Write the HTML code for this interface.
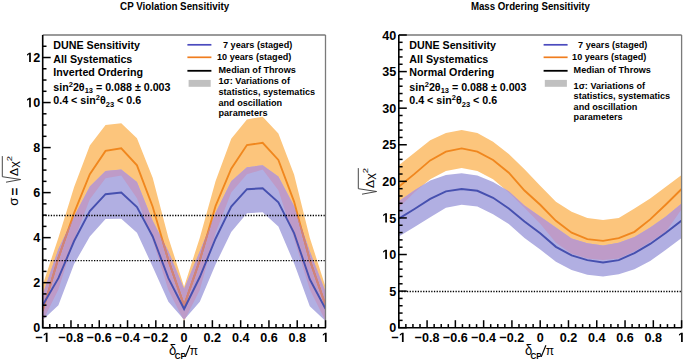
<!DOCTYPE html>
<html><head><meta charset="utf-8"><style>
html,body{margin:0;padding:0;background:#fff;width:685px;height:361px;overflow:hidden}
svg{display:block}
</style></head><body>
<svg width="685" height="361" viewBox="0 0 685 361" style="font-family:'Liberation Sans',sans-serif">
<rect width="685" height="361" fill="#fff"/>
<clipPath id="c42"><rect x="42.7" y="35.0" width="282.8" height="292.7"/></clipPath>
<g clip-path="url(#c42)">
<path d="M42.70,284.92 L58.41,237.64 L74.12,186.98 L89.83,145.55 L105.54,125.06 L121.26,123.26 L136.97,138.35 L152.68,177.75 L168.39,237.64 L184.10,286.72 L199.81,237.64 L215.52,181.35 L231.23,138.80 L246.94,119.43 L262.66,116.73 L278.37,133.39 L294.08,174.60 L309.79,237.64 L325.50,286.72 L325.50,320.95 L309.79,289.42 L294.08,238.76 L278.37,190.36 L262.66,169.42 L246.94,174.37 L231.23,192.61 L215.52,233.14 L199.81,290.10 L184.10,320.95 L168.39,290.10 L152.68,239.89 L136.97,198.24 L121.26,175.50 L105.54,178.20 L89.83,199.14 L74.12,239.89 L58.41,289.42 L42.70,320.95 Z" fill="rgb(252,197,124)"/>
<path d="M42.70,294.60 L58.41,248.90 L74.12,216.25 L89.83,186.53 L105.54,170.99 L121.26,169.42 L136.97,182.03 L152.68,220.75 L168.39,251.15 L184.10,288.97 L199.81,251.15 L215.52,212.87 L231.23,181.35 L246.94,167.17 L262.66,165.36 L278.37,176.62 L294.08,206.12 L309.79,251.15 L325.50,291.68 L325.50,320.95 L309.79,306.31 L294.08,263.31 L278.37,226.61 L262.66,212.20 L246.94,213.32 L231.23,232.01 L215.52,264.43 L199.81,301.81 L184.10,319.82 L168.39,301.81 L152.68,266.68 L136.97,232.69 L121.26,218.73 L105.54,218.95 L89.83,236.51 L74.12,263.98 L58.41,305.18 L42.70,320.04 Z" fill="rgb(177,175,226)"/>
<clipPath id="oc42"><path d="M42.70,284.92 L58.41,237.64 L74.12,186.98 L89.83,145.55 L105.54,125.06 L121.26,123.26 L136.97,138.35 L152.68,177.75 L168.39,237.64 L184.10,286.72 L199.81,237.64 L215.52,181.35 L231.23,138.80 L246.94,119.43 L262.66,116.73 L278.37,133.39 L294.08,174.60 L309.79,237.64 L325.50,286.72 L325.50,320.95 L309.79,289.42 L294.08,238.76 L278.37,190.36 L262.66,169.42 L246.94,174.37 L231.23,192.61 L215.52,233.14 L199.81,290.10 L184.10,320.95 L168.39,290.10 L152.68,239.89 L136.97,198.24 L121.26,175.50 L105.54,178.20 L89.83,199.14 L74.12,239.89 L58.41,289.42 L42.70,320.95 Z"/></clipPath>
<path d="M42.70,294.60 L58.41,248.90 L74.12,216.25 L89.83,186.53 L105.54,170.99 L121.26,169.42 L136.97,182.03 L152.68,220.75 L168.39,251.15 L184.10,288.97 L199.81,251.15 L215.52,212.87 L231.23,181.35 L246.94,167.17 L262.66,165.36 L278.37,176.62 L294.08,206.12 L309.79,251.15 L325.50,291.68 L325.50,320.95 L309.79,306.31 L294.08,263.31 L278.37,226.61 L262.66,212.20 L246.94,213.32 L231.23,232.01 L215.52,264.43 L199.81,301.81 L184.10,319.82 L168.39,301.81 L152.68,266.68 L136.97,232.69 L121.26,218.73 L105.54,218.95 L89.83,236.51 L74.12,263.98 L58.41,305.18 L42.70,320.04 Z" fill="rgb(190,155,200)" clip-path="url(#oc42)"/>
<path d="M42.70,310.81 L58.41,257.90 L74.12,212.87 L89.83,174.15 L105.54,150.95 L121.26,148.25 L136.97,165.36 L152.68,206.79 L168.39,260.15 L184.10,305.63 L199.81,260.15 L215.52,206.12 L231.23,168.74 L246.94,145.10 L262.66,142.85 L278.37,159.96 L294.08,201.61 L309.79,260.15 L325.50,305.18" fill="none" stroke="#f0871e" stroke-width="1.85" stroke-linejoin="miter"/>
<clipPath id="bc42"><path d="M42.70,294.60 L58.41,248.90 L74.12,216.25 L89.83,186.53 L105.54,170.99 L121.26,169.42 L136.97,182.03 L152.68,220.75 L168.39,251.15 L184.10,288.97 L199.81,251.15 L215.52,212.87 L231.23,181.35 L246.94,167.17 L262.66,165.36 L278.37,176.62 L294.08,206.12 L309.79,251.15 L325.50,291.68 L325.50,320.95 L309.79,306.31 L294.08,263.31 L278.37,226.61 L262.66,212.20 L246.94,213.32 L231.23,232.01 L215.52,264.43 L199.81,301.81 L184.10,319.82 L168.39,301.81 L152.68,266.68 L136.97,232.69 L121.26,218.73 L105.54,218.95 L89.83,236.51 L74.12,263.98 L58.41,305.18 L42.70,320.04 Z"/></clipPath>
<g clip-path="url(#bc42)">
<path d="M42.70,310.81 L58.41,257.90 L74.12,212.87 L89.83,174.15 L105.54,150.95 L121.26,148.25 L136.97,165.36 L152.68,206.79 L168.39,260.15 L184.10,305.63 L199.81,260.15 L215.52,206.12 L231.23,168.74 L246.94,145.10 L262.66,142.85 L278.37,159.96 L294.08,201.61 L309.79,260.15 L325.50,305.18" fill="none" stroke="rgb(205,130,128)" stroke-width="1.85" stroke-linejoin="miter"/>
</g>
<path d="M42.70,305.18 L58.41,278.17 L74.12,241.02 L89.83,211.07 L105.54,194.18 L121.26,192.61 L136.97,207.02 L152.68,236.51 L168.39,278.17 L184.10,309.01 L199.81,277.04 L215.52,238.76 L231.23,206.57 L246.94,189.23 L262.66,188.33 L278.37,202.29 L294.08,233.14 L309.79,279.29 L325.50,308.79" fill="none" stroke="#4650af" stroke-width="1.9" stroke-linejoin="miter"/>
<line x1="42.7" y1="215.52" x2="325.5" y2="215.52" stroke="#000" stroke-width="1.35" stroke-dasharray="1.3 1.4"/>
<line x1="42.7" y1="260.55" x2="325.5" y2="260.55" stroke="#000" stroke-width="1.35" stroke-dasharray="1.3 1.4"/>
</g>
<line x1="42.7" y1="35.0" x2="325.5" y2="35.0" stroke="#9a9a9a" stroke-width="1.9"/>
<line x1="325.5" y1="35.0" x2="325.5" y2="327.7" stroke="#7a7a7a" stroke-width="1.3"/>
<path d="M42.7,35.0 V327.7 H326.0" fill="none" stroke="#000" stroke-width="1.6"/>
<line x1="42.70" y1="327.7" x2="42.70" y2="320.2" stroke="#000" stroke-width="1.5"/>
<line x1="49.77" y1="327.7" x2="49.77" y2="324.09999999999997" stroke="#000" stroke-width="1.5"/>
<line x1="56.84" y1="327.7" x2="56.84" y2="324.09999999999997" stroke="#000" stroke-width="1.5"/>
<line x1="63.91" y1="327.7" x2="63.91" y2="324.09999999999997" stroke="#000" stroke-width="1.5"/>
<line x1="70.98" y1="327.7" x2="70.98" y2="320.2" stroke="#000" stroke-width="1.5"/>
<line x1="78.05" y1="327.7" x2="78.05" y2="324.09999999999997" stroke="#000" stroke-width="1.5"/>
<line x1="85.12" y1="327.7" x2="85.12" y2="324.09999999999997" stroke="#000" stroke-width="1.5"/>
<line x1="92.19" y1="327.7" x2="92.19" y2="324.09999999999997" stroke="#000" stroke-width="1.5"/>
<line x1="99.26" y1="327.7" x2="99.26" y2="320.2" stroke="#000" stroke-width="1.5"/>
<line x1="106.33" y1="327.7" x2="106.33" y2="324.09999999999997" stroke="#000" stroke-width="1.5"/>
<line x1="113.40" y1="327.7" x2="113.40" y2="324.09999999999997" stroke="#000" stroke-width="1.5"/>
<line x1="120.47" y1="327.7" x2="120.47" y2="324.09999999999997" stroke="#000" stroke-width="1.5"/>
<line x1="127.54" y1="327.7" x2="127.54" y2="320.2" stroke="#000" stroke-width="1.5"/>
<line x1="134.61" y1="327.7" x2="134.61" y2="324.09999999999997" stroke="#000" stroke-width="1.5"/>
<line x1="141.68" y1="327.7" x2="141.68" y2="324.09999999999997" stroke="#000" stroke-width="1.5"/>
<line x1="148.75" y1="327.7" x2="148.75" y2="324.09999999999997" stroke="#000" stroke-width="1.5"/>
<line x1="155.82" y1="327.7" x2="155.82" y2="320.2" stroke="#000" stroke-width="1.5"/>
<line x1="162.89" y1="327.7" x2="162.89" y2="324.09999999999997" stroke="#000" stroke-width="1.5"/>
<line x1="169.96" y1="327.7" x2="169.96" y2="324.09999999999997" stroke="#000" stroke-width="1.5"/>
<line x1="177.03" y1="327.7" x2="177.03" y2="324.09999999999997" stroke="#000" stroke-width="1.5"/>
<line x1="184.10" y1="327.7" x2="184.10" y2="320.2" stroke="#000" stroke-width="1.5"/>
<line x1="191.17" y1="327.7" x2="191.17" y2="324.09999999999997" stroke="#000" stroke-width="1.5"/>
<line x1="198.24" y1="327.7" x2="198.24" y2="324.09999999999997" stroke="#000" stroke-width="1.5"/>
<line x1="205.31" y1="327.7" x2="205.31" y2="324.09999999999997" stroke="#000" stroke-width="1.5"/>
<line x1="212.38" y1="327.7" x2="212.38" y2="320.2" stroke="#000" stroke-width="1.5"/>
<line x1="219.45" y1="327.7" x2="219.45" y2="324.09999999999997" stroke="#000" stroke-width="1.5"/>
<line x1="226.52" y1="327.7" x2="226.52" y2="324.09999999999997" stroke="#000" stroke-width="1.5"/>
<line x1="233.59" y1="327.7" x2="233.59" y2="324.09999999999997" stroke="#000" stroke-width="1.5"/>
<line x1="240.66" y1="327.7" x2="240.66" y2="320.2" stroke="#000" stroke-width="1.5"/>
<line x1="247.73" y1="327.7" x2="247.73" y2="324.09999999999997" stroke="#000" stroke-width="1.5"/>
<line x1="254.80" y1="327.7" x2="254.80" y2="324.09999999999997" stroke="#000" stroke-width="1.5"/>
<line x1="261.87" y1="327.7" x2="261.87" y2="324.09999999999997" stroke="#000" stroke-width="1.5"/>
<line x1="268.94" y1="327.7" x2="268.94" y2="320.2" stroke="#000" stroke-width="1.5"/>
<line x1="276.01" y1="327.7" x2="276.01" y2="324.09999999999997" stroke="#000" stroke-width="1.5"/>
<line x1="283.08" y1="327.7" x2="283.08" y2="324.09999999999997" stroke="#000" stroke-width="1.5"/>
<line x1="290.15" y1="327.7" x2="290.15" y2="324.09999999999997" stroke="#000" stroke-width="1.5"/>
<line x1="297.22" y1="327.7" x2="297.22" y2="320.2" stroke="#000" stroke-width="1.5"/>
<line x1="304.29" y1="327.7" x2="304.29" y2="324.09999999999997" stroke="#000" stroke-width="1.5"/>
<line x1="311.36" y1="327.7" x2="311.36" y2="324.09999999999997" stroke="#000" stroke-width="1.5"/>
<line x1="318.43" y1="327.7" x2="318.43" y2="324.09999999999997" stroke="#000" stroke-width="1.5"/>
<line x1="325.50" y1="327.7" x2="325.50" y2="320.2" stroke="#000" stroke-width="1.5"/>
<line x1="42.7" y1="327.70" x2="50.7" y2="327.70" stroke="#000" stroke-width="1.5"/>
<line x1="42.7" y1="316.44" x2="46.5" y2="316.44" stroke="#000" stroke-width="1.5"/>
<line x1="42.7" y1="305.18" x2="46.5" y2="305.18" stroke="#000" stroke-width="1.5"/>
<line x1="42.7" y1="293.93" x2="46.5" y2="293.93" stroke="#000" stroke-width="1.5"/>
<line x1="42.7" y1="282.67" x2="50.7" y2="282.67" stroke="#000" stroke-width="1.5"/>
<line x1="42.7" y1="271.41" x2="46.5" y2="271.41" stroke="#000" stroke-width="1.5"/>
<line x1="42.7" y1="260.15" x2="46.5" y2="260.15" stroke="#000" stroke-width="1.5"/>
<line x1="42.7" y1="248.90" x2="46.5" y2="248.90" stroke="#000" stroke-width="1.5"/>
<line x1="42.7" y1="237.64" x2="50.7" y2="237.64" stroke="#000" stroke-width="1.5"/>
<line x1="42.7" y1="226.38" x2="46.5" y2="226.38" stroke="#000" stroke-width="1.5"/>
<line x1="42.7" y1="215.12" x2="46.5" y2="215.12" stroke="#000" stroke-width="1.5"/>
<line x1="42.7" y1="203.87" x2="46.5" y2="203.87" stroke="#000" stroke-width="1.5"/>
<line x1="42.7" y1="192.61" x2="50.7" y2="192.61" stroke="#000" stroke-width="1.5"/>
<line x1="42.7" y1="181.35" x2="46.5" y2="181.35" stroke="#000" stroke-width="1.5"/>
<line x1="42.7" y1="170.09" x2="46.5" y2="170.09" stroke="#000" stroke-width="1.5"/>
<line x1="42.7" y1="158.83" x2="46.5" y2="158.83" stroke="#000" stroke-width="1.5"/>
<line x1="42.7" y1="147.58" x2="50.7" y2="147.58" stroke="#000" stroke-width="1.5"/>
<line x1="42.7" y1="136.32" x2="46.5" y2="136.32" stroke="#000" stroke-width="1.5"/>
<line x1="42.7" y1="125.06" x2="46.5" y2="125.06" stroke="#000" stroke-width="1.5"/>
<line x1="42.7" y1="113.80" x2="46.5" y2="113.80" stroke="#000" stroke-width="1.5"/>
<line x1="42.7" y1="102.55" x2="50.7" y2="102.55" stroke="#000" stroke-width="1.5"/>
<line x1="42.7" y1="91.29" x2="46.5" y2="91.29" stroke="#000" stroke-width="1.5"/>
<line x1="42.7" y1="80.03" x2="46.5" y2="80.03" stroke="#000" stroke-width="1.5"/>
<line x1="42.7" y1="68.77" x2="46.5" y2="68.77" stroke="#000" stroke-width="1.5"/>
<line x1="42.7" y1="57.52" x2="50.7" y2="57.52" stroke="#000" stroke-width="1.5"/>
<line x1="42.7" y1="46.26" x2="46.5" y2="46.26" stroke="#000" stroke-width="1.5"/>
<g transform="translate(0,342.10) scale(1,1.08) translate(0,-342.10)">
<text x="35.52" y="342.10" font-weight="bold" font-size="12.6">−</text>
<path d="M478 0V1170L140 959V1180L493 1409H759V0Z" transform="translate(42.88,342.10) scale(0.006152,-0.006152)"/>
</g>
<g transform="translate(0,342.10) scale(1,1.08) translate(0,-342.10)">
<text x="58.54" y="342.10" font-weight="bold" font-size="12.6">−0.8</text>
</g>
<g transform="translate(0,342.10) scale(1,1.08) translate(0,-342.10)">
<text x="86.82" y="342.10" font-weight="bold" font-size="12.6">−0.6</text>
</g>
<g transform="translate(0,342.10) scale(1,1.08) translate(0,-342.10)">
<text x="115.10" y="342.10" font-weight="bold" font-size="12.6">−0.4</text>
</g>
<g transform="translate(0,342.10) scale(1,1.08) translate(0,-342.10)">
<text x="143.38" y="342.10" font-weight="bold" font-size="12.6">−0.2</text>
</g>
<g transform="translate(0,342.10) scale(1,1.08) translate(0,-342.10)">
<text x="180.60" y="342.10" font-weight="bold" font-size="12.6">0</text>
</g>
<g transform="translate(0,342.10) scale(1,1.08) translate(0,-342.10)">
<text x="203.62" y="342.10" font-weight="bold" font-size="12.6">0.2</text>
</g>
<g transform="translate(0,342.10) scale(1,1.08) translate(0,-342.10)">
<text x="231.90" y="342.10" font-weight="bold" font-size="12.6">0.4</text>
</g>
<g transform="translate(0,342.10) scale(1,1.08) translate(0,-342.10)">
<text x="260.18" y="342.10" font-weight="bold" font-size="12.6">0.6</text>
</g>
<g transform="translate(0,342.10) scale(1,1.08) translate(0,-342.10)">
<text x="288.46" y="342.10" font-weight="bold" font-size="12.6">0.8</text>
</g>
<g transform="translate(0,342.10) scale(1,1.08) translate(0,-342.10)">
<path d="M478 0V1170L140 959V1180L493 1409H759V0Z" transform="translate(322.00,342.10) scale(0.006152,-0.006152)"/>
</g>
<g transform="translate(0,332.30) scale(1,1.08) translate(0,-332.30)">
<text x="33.19" y="332.30" font-weight="bold" font-size="12.6">0</text>
</g>
<g transform="translate(0,287.27) scale(1,1.08) translate(0,-287.27)">
<text x="33.19" y="287.27" font-weight="bold" font-size="12.6">2</text>
</g>
<g transform="translate(0,242.24) scale(1,1.08) translate(0,-242.24)">
<text x="33.19" y="242.24" font-weight="bold" font-size="12.6">4</text>
</g>
<g transform="translate(0,197.21) scale(1,1.08) translate(0,-197.21)">
<text x="33.19" y="197.21" font-weight="bold" font-size="12.6">6</text>
</g>
<g transform="translate(0,152.18) scale(1,1.08) translate(0,-152.18)">
<text x="33.19" y="152.18" font-weight="bold" font-size="12.6">8</text>
</g>
<g transform="translate(0,107.15) scale(1,1.08) translate(0,-107.15)">
<path d="M478 0V1170L140 959V1180L493 1409H759V0Z" transform="translate(26.18,107.15) scale(0.006152,-0.006152)"/>
<text x="33.19" y="107.15" font-weight="bold" font-size="12.6">0</text>
</g>
<g transform="translate(0,62.12) scale(1,1.08) translate(0,-62.12)">
<path d="M478 0V1170L140 959V1180L493 1409H759V0Z" transform="translate(26.18,62.12) scale(0.006152,-0.006152)"/>
<text x="33.19" y="62.12" font-weight="bold" font-size="12.6">2</text>
</g>
<clipPath id="c398"><rect x="398.8" y="35.0" width="282.8" height="292.7"/></clipPath>
<g clip-path="url(#c398)">
<path d="M398.80,165.25 L414.51,152.81 L430.22,140.37 L445.93,132.91 L461.64,129.98 L477.36,132.91 L493.07,141.76 L508.78,153.98 L524.49,169.20 L540.20,185.74 L555.91,201.77 L571.62,211.72 L587.33,218.08 L603.04,219.91 L618.76,218.08 L634.47,208.42 L650.18,198.40 L665.89,186.69 L681.60,174.98 L681.60,209.16 L665.89,231.84 L650.18,242.09 L634.47,251.60 L618.76,258.40 L603.04,260.09 L587.33,258.40 L571.62,253.72 L555.91,242.82 L540.20,223.79 L524.49,207.69 L508.78,192.47 L493.07,179.15 L477.36,171.03 L461.64,167.96 L445.93,170.89 L430.22,179.15 L414.51,192.33 L398.80,207.69 Z" fill="rgb(252,197,124)"/>
<path d="M398.80,201.33 L414.51,190.20 L430.22,180.62 L445.93,174.98 L461.64,173.30 L477.36,175.50 L493.07,182.01 L508.78,191.37 L524.49,205.42 L540.20,216.47 L555.91,227.38 L571.62,238.50 L587.33,243.18 L603.04,245.52 L618.76,242.67 L634.47,236.96 L650.18,227.45 L665.89,216.40 L681.60,203.60 L681.60,237.99 L665.89,249.70 L650.18,261.11 L634.47,269.16 L618.76,274.28 L603.04,276.48 L587.33,274.72 L571.62,270.04 L555.91,261.84 L540.20,249.40 L524.49,238.06 L508.78,224.01 L493.07,214.28 L477.36,206.60 L461.64,204.77 L445.93,207.69 L430.22,217.21 L414.51,227.08 L398.80,236.60 Z" fill="rgb(177,175,226)"/>
<clipPath id="oc398"><path d="M398.80,165.25 L414.51,152.81 L430.22,140.37 L445.93,132.91 L461.64,129.98 L477.36,132.91 L493.07,141.76 L508.78,153.98 L524.49,169.20 L540.20,185.74 L555.91,201.77 L571.62,211.72 L587.33,218.08 L603.04,219.91 L618.76,218.08 L634.47,208.42 L650.18,198.40 L665.89,186.69 L681.60,174.98 L681.60,209.16 L665.89,231.84 L650.18,242.09 L634.47,251.60 L618.76,258.40 L603.04,260.09 L587.33,258.40 L571.62,253.72 L555.91,242.82 L540.20,223.79 L524.49,207.69 L508.78,192.47 L493.07,179.15 L477.36,171.03 L461.64,167.96 L445.93,170.89 L430.22,179.15 L414.51,192.33 L398.80,207.69 Z"/></clipPath>
<path d="M398.80,201.33 L414.51,190.20 L430.22,180.62 L445.93,174.98 L461.64,173.30 L477.36,175.50 L493.07,182.01 L508.78,191.37 L524.49,205.42 L540.20,216.47 L555.91,227.38 L571.62,238.50 L587.33,243.18 L603.04,245.52 L618.76,242.67 L634.47,236.96 L650.18,227.45 L665.89,216.40 L681.60,203.60 L681.60,237.99 L665.89,249.70 L650.18,261.11 L634.47,269.16 L618.76,274.28 L603.04,276.48 L587.33,274.72 L571.62,270.04 L555.91,261.84 L540.20,249.40 L524.49,238.06 L508.78,224.01 L493.07,214.28 L477.36,206.60 L461.64,204.77 L445.93,207.69 L430.22,217.21 L414.51,227.08 L398.80,236.60 Z" fill="rgb(190,155,200)" clip-path="url(#oc398)"/>
<path d="M398.80,186.69 L414.51,173.89 L430.22,160.42 L445.93,151.71 L461.64,148.42 L477.36,151.71 L493.07,159.91 L508.78,172.72 L524.49,190.50 L540.20,204.77 L555.91,220.86 L571.62,232.72 L587.33,239.09 L603.04,240.84 L618.76,238.13 L634.47,231.84 L650.18,219.40 L665.89,204.47 L681.60,189.03" fill="none" stroke="#f0871e" stroke-width="1.85" stroke-linejoin="miter"/>
<clipPath id="bc398"><path d="M398.80,201.33 L414.51,190.20 L430.22,180.62 L445.93,174.98 L461.64,173.30 L477.36,175.50 L493.07,182.01 L508.78,191.37 L524.49,205.42 L540.20,216.47 L555.91,227.38 L571.62,238.50 L587.33,243.18 L603.04,245.52 L618.76,242.67 L634.47,236.96 L650.18,227.45 L665.89,216.40 L681.60,203.60 L681.60,237.99 L665.89,249.70 L650.18,261.11 L634.47,269.16 L618.76,274.28 L603.04,276.48 L587.33,274.72 L571.62,270.04 L555.91,261.84 L540.20,249.40 L524.49,238.06 L508.78,224.01 L493.07,214.28 L477.36,206.60 L461.64,204.77 L445.93,207.69 L430.22,217.21 L414.51,227.08 L398.80,236.60 Z"/></clipPath>
<g clip-path="url(#bc398)">
<path d="M398.80,186.69 L414.51,173.89 L430.22,160.42 L445.93,151.71 L461.64,148.42 L477.36,151.71 L493.07,159.91 L508.78,172.72 L524.49,190.50 L540.20,204.77 L555.91,220.86 L571.62,232.72 L587.33,239.09 L603.04,240.84 L618.76,238.13 L634.47,231.84 L650.18,219.40 L665.89,204.47 L681.60,189.03" fill="none" stroke="rgb(205,130,128)" stroke-width="1.85" stroke-linejoin="miter"/>
</g>
<path d="M398.80,218.67 L414.51,208.94 L430.22,198.91 L445.93,191.37 L461.64,189.03 L477.36,190.79 L493.07,197.81 L508.78,208.42 L524.49,221.60 L540.20,233.30 L555.91,246.84 L571.62,255.40 L587.33,260.09 L603.04,262.43 L618.76,260.09 L634.47,253.06 L650.18,243.91 L665.89,232.79 L681.60,220.50" fill="none" stroke="#4650af" stroke-width="1.9" stroke-linejoin="miter"/>
<line x1="398.8" y1="291.51" x2="681.6" y2="291.51" stroke="#000" stroke-width="1.35" stroke-dasharray="1.3 1.4"/>
</g>
<line x1="398.8" y1="35.0" x2="681.6" y2="35.0" stroke="#9a9a9a" stroke-width="1.9"/>
<line x1="681.6" y1="35.0" x2="681.6" y2="327.7" stroke="#7a7a7a" stroke-width="1.3"/>
<path d="M398.8,35.0 V327.7 H682.1" fill="none" stroke="#000" stroke-width="1.6"/>
<line x1="398.80" y1="327.7" x2="398.80" y2="320.2" stroke="#000" stroke-width="1.5"/>
<line x1="405.87" y1="327.7" x2="405.87" y2="324.09999999999997" stroke="#000" stroke-width="1.5"/>
<line x1="412.94" y1="327.7" x2="412.94" y2="324.09999999999997" stroke="#000" stroke-width="1.5"/>
<line x1="420.01" y1="327.7" x2="420.01" y2="324.09999999999997" stroke="#000" stroke-width="1.5"/>
<line x1="427.08" y1="327.7" x2="427.08" y2="320.2" stroke="#000" stroke-width="1.5"/>
<line x1="434.15" y1="327.7" x2="434.15" y2="324.09999999999997" stroke="#000" stroke-width="1.5"/>
<line x1="441.22" y1="327.7" x2="441.22" y2="324.09999999999997" stroke="#000" stroke-width="1.5"/>
<line x1="448.29" y1="327.7" x2="448.29" y2="324.09999999999997" stroke="#000" stroke-width="1.5"/>
<line x1="455.36" y1="327.7" x2="455.36" y2="320.2" stroke="#000" stroke-width="1.5"/>
<line x1="462.43" y1="327.7" x2="462.43" y2="324.09999999999997" stroke="#000" stroke-width="1.5"/>
<line x1="469.50" y1="327.7" x2="469.50" y2="324.09999999999997" stroke="#000" stroke-width="1.5"/>
<line x1="476.57" y1="327.7" x2="476.57" y2="324.09999999999997" stroke="#000" stroke-width="1.5"/>
<line x1="483.64" y1="327.7" x2="483.64" y2="320.2" stroke="#000" stroke-width="1.5"/>
<line x1="490.71" y1="327.7" x2="490.71" y2="324.09999999999997" stroke="#000" stroke-width="1.5"/>
<line x1="497.78" y1="327.7" x2="497.78" y2="324.09999999999997" stroke="#000" stroke-width="1.5"/>
<line x1="504.85" y1="327.7" x2="504.85" y2="324.09999999999997" stroke="#000" stroke-width="1.5"/>
<line x1="511.92" y1="327.7" x2="511.92" y2="320.2" stroke="#000" stroke-width="1.5"/>
<line x1="518.99" y1="327.7" x2="518.99" y2="324.09999999999997" stroke="#000" stroke-width="1.5"/>
<line x1="526.06" y1="327.7" x2="526.06" y2="324.09999999999997" stroke="#000" stroke-width="1.5"/>
<line x1="533.13" y1="327.7" x2="533.13" y2="324.09999999999997" stroke="#000" stroke-width="1.5"/>
<line x1="540.20" y1="327.7" x2="540.20" y2="320.2" stroke="#000" stroke-width="1.5"/>
<line x1="547.27" y1="327.7" x2="547.27" y2="324.09999999999997" stroke="#000" stroke-width="1.5"/>
<line x1="554.34" y1="327.7" x2="554.34" y2="324.09999999999997" stroke="#000" stroke-width="1.5"/>
<line x1="561.41" y1="327.7" x2="561.41" y2="324.09999999999997" stroke="#000" stroke-width="1.5"/>
<line x1="568.48" y1="327.7" x2="568.48" y2="320.2" stroke="#000" stroke-width="1.5"/>
<line x1="575.55" y1="327.7" x2="575.55" y2="324.09999999999997" stroke="#000" stroke-width="1.5"/>
<line x1="582.62" y1="327.7" x2="582.62" y2="324.09999999999997" stroke="#000" stroke-width="1.5"/>
<line x1="589.69" y1="327.7" x2="589.69" y2="324.09999999999997" stroke="#000" stroke-width="1.5"/>
<line x1="596.76" y1="327.7" x2="596.76" y2="320.2" stroke="#000" stroke-width="1.5"/>
<line x1="603.83" y1="327.7" x2="603.83" y2="324.09999999999997" stroke="#000" stroke-width="1.5"/>
<line x1="610.90" y1="327.7" x2="610.90" y2="324.09999999999997" stroke="#000" stroke-width="1.5"/>
<line x1="617.97" y1="327.7" x2="617.97" y2="324.09999999999997" stroke="#000" stroke-width="1.5"/>
<line x1="625.04" y1="327.7" x2="625.04" y2="320.2" stroke="#000" stroke-width="1.5"/>
<line x1="632.11" y1="327.7" x2="632.11" y2="324.09999999999997" stroke="#000" stroke-width="1.5"/>
<line x1="639.18" y1="327.7" x2="639.18" y2="324.09999999999997" stroke="#000" stroke-width="1.5"/>
<line x1="646.25" y1="327.7" x2="646.25" y2="324.09999999999997" stroke="#000" stroke-width="1.5"/>
<line x1="653.32" y1="327.7" x2="653.32" y2="320.2" stroke="#000" stroke-width="1.5"/>
<line x1="660.39" y1="327.7" x2="660.39" y2="324.09999999999997" stroke="#000" stroke-width="1.5"/>
<line x1="667.46" y1="327.7" x2="667.46" y2="324.09999999999997" stroke="#000" stroke-width="1.5"/>
<line x1="674.53" y1="327.7" x2="674.53" y2="324.09999999999997" stroke="#000" stroke-width="1.5"/>
<line x1="681.60" y1="327.7" x2="681.60" y2="320.2" stroke="#000" stroke-width="1.5"/>
<line x1="398.8" y1="327.70" x2="406.8" y2="327.70" stroke="#000" stroke-width="1.5"/>
<line x1="398.8" y1="320.38" x2="402.6" y2="320.38" stroke="#000" stroke-width="1.5"/>
<line x1="398.8" y1="313.06" x2="402.6" y2="313.06" stroke="#000" stroke-width="1.5"/>
<line x1="398.8" y1="305.75" x2="402.6" y2="305.75" stroke="#000" stroke-width="1.5"/>
<line x1="398.8" y1="298.43" x2="402.6" y2="298.43" stroke="#000" stroke-width="1.5"/>
<line x1="398.8" y1="291.11" x2="406.8" y2="291.11" stroke="#000" stroke-width="1.5"/>
<line x1="398.8" y1="283.80" x2="402.6" y2="283.80" stroke="#000" stroke-width="1.5"/>
<line x1="398.8" y1="276.48" x2="402.6" y2="276.48" stroke="#000" stroke-width="1.5"/>
<line x1="398.8" y1="269.16" x2="402.6" y2="269.16" stroke="#000" stroke-width="1.5"/>
<line x1="398.8" y1="261.84" x2="402.6" y2="261.84" stroke="#000" stroke-width="1.5"/>
<line x1="398.8" y1="254.52" x2="406.8" y2="254.52" stroke="#000" stroke-width="1.5"/>
<line x1="398.8" y1="247.21" x2="402.6" y2="247.21" stroke="#000" stroke-width="1.5"/>
<line x1="398.8" y1="239.89" x2="402.6" y2="239.89" stroke="#000" stroke-width="1.5"/>
<line x1="398.8" y1="232.57" x2="402.6" y2="232.57" stroke="#000" stroke-width="1.5"/>
<line x1="398.8" y1="225.25" x2="402.6" y2="225.25" stroke="#000" stroke-width="1.5"/>
<line x1="398.8" y1="217.94" x2="406.8" y2="217.94" stroke="#000" stroke-width="1.5"/>
<line x1="398.8" y1="210.62" x2="402.6" y2="210.62" stroke="#000" stroke-width="1.5"/>
<line x1="398.8" y1="203.30" x2="402.6" y2="203.30" stroke="#000" stroke-width="1.5"/>
<line x1="398.8" y1="195.99" x2="402.6" y2="195.99" stroke="#000" stroke-width="1.5"/>
<line x1="398.8" y1="188.67" x2="402.6" y2="188.67" stroke="#000" stroke-width="1.5"/>
<line x1="398.8" y1="181.35" x2="406.8" y2="181.35" stroke="#000" stroke-width="1.5"/>
<line x1="398.8" y1="174.03" x2="402.6" y2="174.03" stroke="#000" stroke-width="1.5"/>
<line x1="398.8" y1="166.72" x2="402.6" y2="166.72" stroke="#000" stroke-width="1.5"/>
<line x1="398.8" y1="159.40" x2="402.6" y2="159.40" stroke="#000" stroke-width="1.5"/>
<line x1="398.8" y1="152.08" x2="402.6" y2="152.08" stroke="#000" stroke-width="1.5"/>
<line x1="398.8" y1="144.76" x2="406.8" y2="144.76" stroke="#000" stroke-width="1.5"/>
<line x1="398.8" y1="137.44" x2="402.6" y2="137.44" stroke="#000" stroke-width="1.5"/>
<line x1="398.8" y1="130.13" x2="402.6" y2="130.13" stroke="#000" stroke-width="1.5"/>
<line x1="398.8" y1="122.81" x2="402.6" y2="122.81" stroke="#000" stroke-width="1.5"/>
<line x1="398.8" y1="115.49" x2="402.6" y2="115.49" stroke="#000" stroke-width="1.5"/>
<line x1="398.8" y1="108.17" x2="406.8" y2="108.17" stroke="#000" stroke-width="1.5"/>
<line x1="398.8" y1="100.86" x2="402.6" y2="100.86" stroke="#000" stroke-width="1.5"/>
<line x1="398.8" y1="93.54" x2="402.6" y2="93.54" stroke="#000" stroke-width="1.5"/>
<line x1="398.8" y1="86.22" x2="402.6" y2="86.22" stroke="#000" stroke-width="1.5"/>
<line x1="398.8" y1="78.91" x2="402.6" y2="78.91" stroke="#000" stroke-width="1.5"/>
<line x1="398.8" y1="71.59" x2="406.8" y2="71.59" stroke="#000" stroke-width="1.5"/>
<line x1="398.8" y1="64.27" x2="402.6" y2="64.27" stroke="#000" stroke-width="1.5"/>
<line x1="398.8" y1="56.95" x2="402.6" y2="56.95" stroke="#000" stroke-width="1.5"/>
<line x1="398.8" y1="49.63" x2="402.6" y2="49.63" stroke="#000" stroke-width="1.5"/>
<line x1="398.8" y1="42.32" x2="402.6" y2="42.32" stroke="#000" stroke-width="1.5"/>
<line x1="398.8" y1="35.00" x2="406.8" y2="35.00" stroke="#000" stroke-width="1.5"/>
<g transform="translate(0,342.10) scale(1,1.08) translate(0,-342.10)">
<text x="391.62" y="342.10" font-weight="bold" font-size="12.6">−</text>
<path d="M478 0V1170L140 959V1180L493 1409H759V0Z" transform="translate(398.98,342.10) scale(0.006152,-0.006152)"/>
</g>
<g transform="translate(0,342.10) scale(1,1.08) translate(0,-342.10)">
<text x="414.64" y="342.10" font-weight="bold" font-size="12.6">−0.8</text>
</g>
<g transform="translate(0,342.10) scale(1,1.08) translate(0,-342.10)">
<text x="442.92" y="342.10" font-weight="bold" font-size="12.6">−0.6</text>
</g>
<g transform="translate(0,342.10) scale(1,1.08) translate(0,-342.10)">
<text x="471.20" y="342.10" font-weight="bold" font-size="12.6">−0.4</text>
</g>
<g transform="translate(0,342.10) scale(1,1.08) translate(0,-342.10)">
<text x="499.48" y="342.10" font-weight="bold" font-size="12.6">−0.2</text>
</g>
<g transform="translate(0,342.10) scale(1,1.08) translate(0,-342.10)">
<text x="536.70" y="342.10" font-weight="bold" font-size="12.6">0</text>
</g>
<g transform="translate(0,342.10) scale(1,1.08) translate(0,-342.10)">
<text x="559.72" y="342.10" font-weight="bold" font-size="12.6">0.2</text>
</g>
<g transform="translate(0,342.10) scale(1,1.08) translate(0,-342.10)">
<text x="588.00" y="342.10" font-weight="bold" font-size="12.6">0.4</text>
</g>
<g transform="translate(0,342.10) scale(1,1.08) translate(0,-342.10)">
<text x="616.28" y="342.10" font-weight="bold" font-size="12.6">0.6</text>
</g>
<g transform="translate(0,342.10) scale(1,1.08) translate(0,-342.10)">
<text x="644.56" y="342.10" font-weight="bold" font-size="12.6">0.8</text>
</g>
<g transform="translate(0,342.10) scale(1,1.08) translate(0,-342.10)">
<path d="M478 0V1170L140 959V1180L493 1409H759V0Z" transform="translate(678.10,342.10) scale(0.006152,-0.006152)"/>
</g>
<g transform="translate(0,332.30) scale(1,1.08) translate(0,-332.30)">
<text x="389.29" y="332.30" font-weight="bold" font-size="12.6">0</text>
</g>
<g transform="translate(0,295.71) scale(1,1.08) translate(0,-295.71)">
<text x="389.29" y="295.71" font-weight="bold" font-size="12.6">5</text>
</g>
<g transform="translate(0,259.12) scale(1,1.08) translate(0,-259.12)">
<path d="M478 0V1170L140 959V1180L493 1409H759V0Z" transform="translate(382.28,259.12) scale(0.006152,-0.006152)"/>
<text x="389.29" y="259.12" font-weight="bold" font-size="12.6">0</text>
</g>
<g transform="translate(0,222.54) scale(1,1.08) translate(0,-222.54)">
<path d="M478 0V1170L140 959V1180L493 1409H759V0Z" transform="translate(382.28,222.54) scale(0.006152,-0.006152)"/>
<text x="389.29" y="222.54" font-weight="bold" font-size="12.6">5</text>
</g>
<g transform="translate(0,185.95) scale(1,1.08) translate(0,-185.95)">
<text x="382.28" y="185.95" font-weight="bold" font-size="12.6">20</text>
</g>
<g transform="translate(0,149.36) scale(1,1.08) translate(0,-149.36)">
<text x="382.28" y="149.36" font-weight="bold" font-size="12.6">25</text>
</g>
<g transform="translate(0,112.77) scale(1,1.08) translate(0,-112.77)">
<text x="382.28" y="112.77" font-weight="bold" font-size="12.6">30</text>
</g>
<g transform="translate(0,76.19) scale(1,1.08) translate(0,-76.19)">
<text x="382.28" y="76.19" font-weight="bold" font-size="12.6">35</text>
</g>
<g transform="translate(0,39.60) scale(1,1.08) translate(0,-39.60)">
<text x="382.28" y="39.60" font-weight="bold" font-size="12.6">40</text>
</g>
<text transform="translate(174.6,9.5) scale(1,1.2)" text-anchor="middle" font-weight="bold" font-size="9.8">CP Violation Sensitivity</text>
<text transform="translate(530.4,9.5) scale(1,1.2)" text-anchor="middle" font-weight="bold" font-size="9.7">Mass Ordering Sensitivity</text>
<g font-weight="bold" font-size="10.7">
<text x="53.3" y="48.5">DUNE Sensitivity</text>
<text x="53.3" y="62.6">All Systematics</text>
<text x="53.3" y="75.9">Inverted Ordering</text>
<text x="53.3" y="90.7">sin<tspan dy="-4.2" font-size="7.5">2</tspan><tspan dy="4.2">2θ</tspan><tspan dy="2.6" font-size="7.5">13</tspan><tspan dy="-2.6"> = 0.088 ± 0.003</tspan></text>
<text x="53.3" y="104.2">0.4 &lt; sin<tspan dy="-4.2" font-size="7.5">2</tspan><tspan dy="4.2">θ</tspan><tspan dy="2.6" font-size="7.5">23</tspan><tspan dy="-2.6"> &lt; 0.6</tspan></text>
</g>
<g font-weight="bold" font-size="10.7">
<text x="409.3" y="48.5">DUNE Sensitivity</text>
<text x="409.3" y="62.6">All Systematics</text>
<text x="409.3" y="75.9">Normal Ordering</text>
<text x="409.3" y="90.7">sin<tspan dy="-4.2" font-size="7.5">2</tspan><tspan dy="4.2">2θ</tspan><tspan dy="2.6" font-size="7.5">13</tspan><tspan dy="-2.6"> = 0.088 ± 0.003</tspan></text>
<text x="409.3" y="104.2">0.4 &lt; sin<tspan dy="-4.2" font-size="7.5">2</tspan><tspan dy="4.2">θ</tspan><tspan dy="2.6" font-size="7.5">23</tspan><tspan dy="-2.6"> &lt; 0.6</tspan></text>
</g>
<g font-weight="bold" font-size="9.1">
<line x1="187.4" y1="44.8" x2="211.4" y2="44.8" stroke="#4b4bbe" stroke-width="1.7"/>
<text x="223.0" y="47.6">7 years (staged)</text>
<line x1="187.4" y1="57.3" x2="211.4" y2="57.3" stroke="#f07d1e" stroke-width="1.7"/>
<text x="217.0" y="60.0">10 years (staged)</text>
<line x1="187.4" y1="70.8" x2="211.4" y2="70.8" stroke="#000" stroke-width="1.8"/>
<text x="218.5" y="73.2">Median of Throws</text>
<rect x="188.6" y="79.9" width="22.1" height="6.9" fill="#c0c0c0"/>
<text x="218.5" y="84.1">1σ: Variations of</text>
<text x="218.5" y="94.8">statistics, systematics</text>
<text x="218.5" y="105.5">and oscillation</text>
<text x="218.5" y="116.0">parameters</text>
</g>
<g font-weight="bold" font-size="9.1">
<line x1="543.6" y1="44.8" x2="567.6" y2="44.8" stroke="#4b4bbe" stroke-width="1.7"/>
<text x="578.1" y="47.6">7 years (staged)</text>
<line x1="543.6" y1="57.3" x2="567.6" y2="57.3" stroke="#f07d1e" stroke-width="1.7"/>
<text x="572.1" y="60.0">10 years (staged)</text>
<line x1="543.6" y1="70.8" x2="567.6" y2="70.8" stroke="#000" stroke-width="1.8"/>
<text x="573.6" y="73.2">Median of Throws</text>
<rect x="544.8000000000001" y="79.9" width="22.1" height="6.9" fill="#c0c0c0"/>
<text x="573.6" y="88.5">1σ: Variations of</text>
<text x="573.6" y="99.2">statistics, systematics</text>
<text x="573.6" y="109.9">and oscillation</text>
<text x="573.6" y="120.4">parameters</text>
</g>
<text transform="translate(169.10,354.5) scale(1,1.12)" font-size="13">δ</text>
<text transform="translate(174.70,358.7) scale(1,1.1)" font-size="8.0" font-weight="bold">CP</text>
<line x1="185.30" y1="356.9" x2="190.00" y2="345.3" stroke="#000" stroke-width="1.15"/>
<text x="189.80" y="354.6" font-size="12">π</text>
<text transform="translate(525.00,354.5) scale(1,1.12)" font-size="13">δ</text>
<text transform="translate(530.60,358.7) scale(1,1.1)" font-size="8.0" font-weight="bold">CP</text>
<line x1="541.20" y1="356.9" x2="545.90" y2="345.3" stroke="#000" stroke-width="1.15"/>
<text x="545.70" y="354.6" font-size="12">π</text>
<path d="M2.3,156.1 V176.7 L20.6,179.5 L6.0,182.2" fill="none" stroke="#333" stroke-width="0.9"/>
<text transform="translate(17.6,176.3) rotate(-90) scale(1.2,1)" font-size="10.6">Δχ<tspan dy="-5.9" font-size="7.8">2</tspan></text>
<text transform="translate(18.4,205.8) rotate(-90)" font-size="13.5">σ</text>
<text transform="translate(19.2,195.4) rotate(-90)" font-size="13.5" font-weight="bold">=</text>
<path d="M358.3,168.1 V188.7 L376.6,191.5 L362.0,194.2" fill="none" stroke="#333" stroke-width="0.9"/>
<text transform="translate(373.6,188.3) rotate(-90) scale(1.2,1)" font-size="10.6">Δχ<tspan dy="-5.9" font-size="7.8">2</tspan></text>
</svg>
</body></html>
